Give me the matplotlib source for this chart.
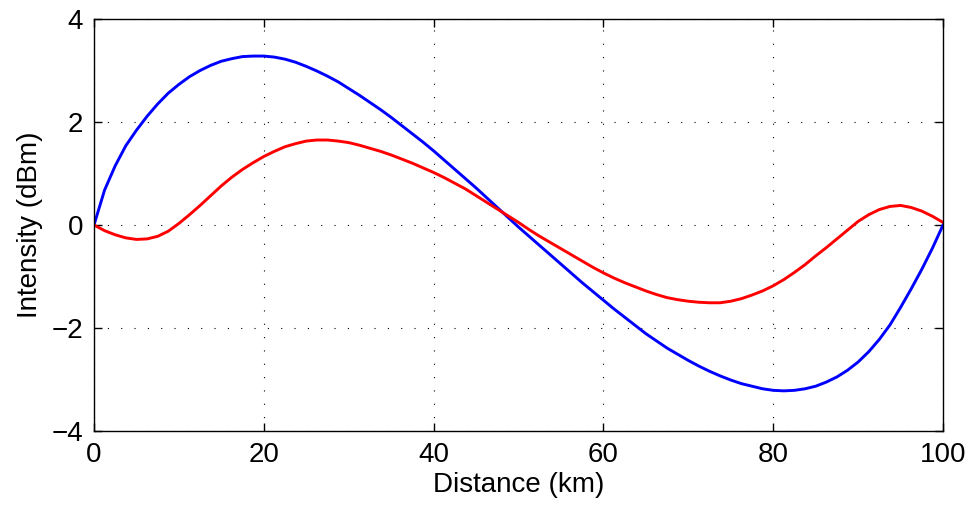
import matplotlib
matplotlib.use("Agg")
import matplotlib.pyplot as plt

# ── Data (every 1.25 km) ─────────────────────────────────────────────────────
distance_km = [i * 1.25 for i in range(81)]

blue_dbm = [0.00, 0.68, 1.15, 1.54, 1.84, 2.11, 2.35, 2.56, 2.73, 2.88,
            3.00, 3.10, 3.18, 3.23, 3.27, 3.28, 3.28, 3.26, 3.22, 3.16,
            3.08, 2.99, 2.89, 2.78, 2.65, 2.52, 2.38, 2.24, 2.09, 1.93,
            1.77, 1.61, 1.44, 1.26, 1.08, 0.90, 0.72, 0.53, 0.34, 0.15,
            -0.04, -0.22, -0.40, -0.58, -0.76, -0.94, -1.12, -1.29, -1.46, -1.63,
            -1.79, -1.95, -2.11, -2.25, -2.39, -2.51, -2.63, -2.74, -2.84, -2.93,
            -3.01, -3.08, -3.13, -3.18, -3.21, -3.22, -3.21, -3.18, -3.13, -3.05,
            -2.95, -2.82, -2.66, -2.46, -2.22, -1.94, -1.60, -1.24, -0.86, -0.45,
            0.00]

red_dbm = [0.00, -0.11, -0.19, -0.25, -0.28, -0.27, -0.22, -0.12, 0.03, 0.20,
           0.38, 0.57, 0.76, 0.93, 1.08, 1.21, 1.33, 1.43, 1.52, 1.58,
           1.63, 1.65, 1.65, 1.63, 1.60, 1.55, 1.49, 1.43, 1.36, 1.28,
           1.20, 1.11, 1.02, 0.92, 0.81, 0.70, 0.57, 0.44, 0.31, 0.18,
           0.05, -0.09, -0.22, -0.34, -0.46, -0.58, -0.70, -0.82, -0.93, -1.03,
           -1.12, -1.20, -1.28, -1.35, -1.41, -1.45, -1.48, -1.50, -1.51, -1.51,
           -1.48, -1.43, -1.36, -1.28, -1.18, -1.06, -0.92, -0.77, -0.60, -0.44,
           -0.27, -0.10, 0.07, 0.20, 0.30, 0.36, 0.38, 0.34, 0.27, 0.17,
           0.05]

x_ticks = [0, 20, 40, 60, 80, 100]
y_ticks = [-4, -2, 0, 2, 4]

plt.rcParams["font.family"] = ["Liberation Sans", "DejaVu Sans"]

fig = plt.figure(figsize=(9.71, 5.09), dpi=100, facecolor="white")
ax = fig.add_axes([0.0968, 0.1532, 0.8744, 0.8095])

ax.plot(distance_km, blue_dbm, color="#0000ff", lw=2.1)
ax.plot(distance_km, red_dbm, color="#ff0000", lw=2.1)

ax.set_xlim(0, 100)
ax.set_ylim(-4, 4)
ax.set_xticks(x_ticks)
ax.set_yticks(y_ticks)
ax.grid(True, color="black", linestyle=(0, (1, 11)), linewidth=0.8)

ax.tick_params(direction="in", top=True, right=True, length=6, width=1,
               labelsize=20, pad=8)
for sp in ax.spines.values():
    sp.set_linewidth(1.0)

ax.set_xlabel("Distance (km)", fontsize=20, labelpad=3)
ax.set_ylabel("Intensity (dBm)", fontsize=20, labelpad=6)

fig.savefig("out.png", dpi=100)
